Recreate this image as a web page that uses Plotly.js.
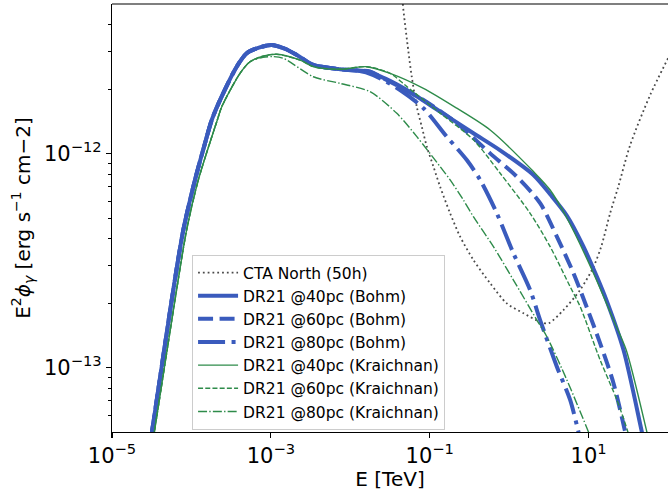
<!DOCTYPE html>
<html>
<head>
<meta charset="utf-8">
<script src="https://cdn.plot.ly/plotly-3.0.1.min.js"></script>
<style>html,body{margin:0;padding:0;background:#fff;overflow:hidden;}</style>
</head>
<body>
<div id="chart" style="width:668px;height:491px;"></div>
<script>
// All values are log10(E / TeV) and log10(E^2 phi / erg s^-1 cm^-2)
const bohmRiseLogE = [-4.62, -4.497, -4.248, -4.102, -3.955, -3.829, -3.744, -3.640, -3.430, -3.304, -3.15, -2.989, -2.83, -2.674, -2.465, -2.128, -1.91];
const bohmRiseLogF = [-13.59, -13.301, -12.684, -12.357, -12.123, -11.952, -11.843, -11.750, -11.594, -11.531, -11.505, -11.493, -11.509, -11.539, -11.586, -11.606, -11.612];

const bohm40TailLogE = [-1.751, -1.709, -1.50, -1.288, -0.869, -0.450, -0.113, 0.306, 0.516, 0.726, 0.936, 1.104, 1.230, 1.440, 1.671, 1.73];
const bohm40TailLogF = [-11.617, -11.625, -11.66, -11.703, -11.804, -11.905, -11.985, -12.10, -12.19, -12.29, -12.435, -12.575, -12.69, -12.918, -13.301, -13.40];

const bohm60TailLogE = [-1.75, -1.583, -1.079, -0.659, -0.239, 0.097, 0.390, 0.601, 0.810, 0.979, 1.146, 1.314, 1.461, 1.50];
const bohm60TailLogF = [-11.617, -11.648, -11.750, -11.858, -11.999, -12.108, -12.232, -12.388, -12.559, -12.72, -12.887, -13.073, -13.301, -13.37];

const bohm80TailLogE = [-1.709, -1.373, -1.079, -0.785, -0.533, -0.365, -0.155, 0.054, 0.264, 0.390, 0.601, 0.768, 0.873, 0.91];
const bohm80TailLogF = [-11.633, -11.703, -11.788, -11.921, -12.030, -12.123, -12.279, -12.466, -12.637, -12.778, -12.996, -13.151, -13.301, -13.36];

const kraiRiseLogE = [-4.59, -4.467, -4.207, -4.060, -3.913, -3.674, -3.618, -3.388, -3.262];
const kraiRiseLogF = [-13.59, -13.301, -12.684, -12.357, -12.123, -11.843, -11.781, -11.625, -11.571];

const krai4060MidLogE = [-3.1, -2.926, -2.632, -2.465, -2.128, -1.792];
const krai4060MidLogF = [-11.545, -11.536, -11.563, -11.594, -11.606, -11.594];

const krai40TailLogE = [-1.499, -1.079, -0.659, -0.239, 0.306, 0.516, 0.726, 1.062, 1.314, 1.474, 1.734, 1.79];
const krai40TailLogF = [-11.625, -11.695, -11.788, -11.890, -12.084, -12.17, -12.30, -12.559, -12.778, -12.918, -13.301, -13.39];

const krai60TailLogE = [-1.499, -1.288, -0.869, -0.450, -0.113, 0.264, 0.516, 0.768, 0.894, 1.146, 1.356, 1.495, 1.54];
const krai60TailLogF = [-11.625, -11.687, -11.811, -11.936, -12.092, -12.279, -12.435, -12.622, -12.715, -12.965, -13.151, -13.301, -13.37];

const krai80TailLogE = [-3.1, -2.969, -2.842, -2.465, -2.128, -1.751, -1.414, -1.162, -0.869, -0.743, -0.576, -0.450, -0.198, 0.054, 0.349, 0.475, 0.727, 0.999, 1.05];
const krai80TailLogF = [-11.55, -11.547, -11.555, -11.641, -11.672, -11.711, -11.812, -11.921, -12.061, -12.123, -12.217, -12.295, -12.435, -12.591, -12.778, -12.856, -13.058, -13.301, -13.35];

const ctaLogE = [-1.38, -1.339, -1.268, -1.226, -1.163, -1.100, -1.036, -0.953, -0.869, -0.743, -0.617, -0.450, -0.239, -0.029, 0.180, 0.390, 0.495, 0.684, 0.894, 1.062, 1.159, 1.272, 1.373, 1.524, 1.776, 2.003];
const ctaLogF = [-11.10, -11.301, -11.524, -11.641, -11.781, -11.874, -11.968, -12.061, -12.155, -12.279, -12.388, -12.497, -12.606, -12.700, -12.746, -12.786, -12.793, -12.731, -12.637, -12.529, -12.435, -12.278, -12.156, -11.960, -11.726, -11.553];

const seriesNames = ["CTA North (50h)", "DR21 @40pc (Bohm)", "DR21 @60pc (Bohm)", "DR21 @80pc (Bohm)",
  "DR21 @40pc (Kraichnan)", "DR21 @60pc (Kraichnan)", "DR21 @80pc (Kraichnan)"];
const xTickVals = [1e-5, 1e-3, 1e-1, 1e1];
const xTickText = ["10<sup>−5</sup>", "10<sup>−3</sup>", "10<sup>−1</sup>", "10<sup>1</sup>"];
const yTickVals = [1e-13, 1e-12];
const yTickText = ["10<sup>−13</sup>", "10<sup>−12</sup>"];
const yMinorVals = [6e-14, 7e-14, 8e-14, 9e-14, 2e-13, 3e-13, 4e-13, 5e-13, 6e-13, 7e-13, 8e-13, 9e-13, 2e-12, 3e-12, 4e-12];

const p10 = a => a.map(v => Math.pow(10, v));
const BLUE = '#3a5bbd', GREEN = '#2e8b4a', GRAY = '#4a4a4a';
const FONT = 'DejaVu Sans, Liberation Sans, sans-serif';

const traces = [
  {x: p10(ctaLogE), y: p10(ctaLogF), name: seriesNames[0], line: {color: GRAY, width: 1.8, dash: '1.8px,3px'}},
  {x: p10(bohmRiseLogE.concat(bohm40TailLogE)), y: p10(bohmRiseLogF.concat(bohm40TailLogF)), name: seriesNames[1], line: {color: BLUE, width: 4}},
  {x: p10(bohmRiseLogE.concat(bohm60TailLogE)), y: p10(bohmRiseLogF.concat(bohm60TailLogF)), name: seriesNames[2], line: {color: BLUE, width: 4, dash: '15px,6.5px'}},
  {x: p10(bohmRiseLogE.concat(bohm80TailLogE)), y: p10(bohmRiseLogF.concat(bohm80TailLogF)), name: seriesNames[3], line: {color: BLUE, width: 4, dash: '27px,6.5px,4px,6.5px'}},
  {x: p10(kraiRiseLogE.concat(krai4060MidLogE, krai40TailLogE)), y: p10(kraiRiseLogF.concat(krai4060MidLogF, krai40TailLogF)), name: seriesNames[4], line: {color: GREEN, width: 1.4}},
  {x: p10(kraiRiseLogE.concat(krai4060MidLogE, krai60TailLogE)), y: p10(kraiRiseLogF.concat(krai4060MidLogF, krai60TailLogF)), name: seriesNames[5], line: {color: GREEN, width: 1.4, dash: '5px,2.2px'}},
  {x: p10(kraiRiseLogE.concat(krai80TailLogE)), y: p10(kraiRiseLogF.concat(krai80TailLogF)), name: seriesNames[6], line: {color: GREEN, width: 1.4, dash: '9px,2.2px,1.4px,2.2px'}}
].map(t => {
  t.type = 'scatter'; t.mode = 'lines'; t.hoverinfo = 'skip';
  t.line.shape = 'spline'; t.line.smoothing = 0.8;
  return t;
});

const axisCommon = {
  type: 'log', showgrid: false, zeroline: false, showline: true, linecolor: 'black', linewidth: 1.1,
  ticks: 'outside', ticklen: 5, tickwidth: 1.1, tickcolor: 'black', tickmode: 'array',
  tickfont: {family: FONT, size: 21, color: 'black'}
};

const layout = {
  width: 668, height: 491,
  margin: {l: 112, r: 0, t: 4, b: 59},
  paper_bgcolor: 'white', plot_bgcolor: 'white',
  font: {family: FONT, color: 'black'},
  showlegend: true,
  xaxis: Object.assign({}, axisCommon, {
    range: [-5, 2.0], tickvals: xTickVals, ticktext: xTickText,
    title: {text: 'E [TeV]', font: {family: FONT, size: 20, color: 'black'}, standoff: 6}
  }),
  yaxis: Object.assign({}, axisCommon, {
    range: [Math.log10(5e-14), Math.log10(5e-12)], tickvals: yTickVals, ticktext: yTickText,
    minor: {tickmode: 'array', tickvals: yMinorVals, ticks: 'outside', ticklen: 3, tickwidth: 1, tickcolor: 'black', showgrid: false},
    title: {text: 'E<sup>2</sup><i>ϕ</i><sub><i>γ</i></sub> [erg s<sup>−1</sup> cm−2]', font: {family: FONT, size: 20, color: 'black'}, standoff: 8}
  }),
  legend: {
    x: 0.144, y: 0.4136, xanchor: 'left', yanchor: 'top',
    bgcolor: 'rgba(255,255,255,0.8)', bordercolor: '#cccccc', borderwidth: 1,
    font: {family: FONT, size: 15.5, color: 'black'}, traceorder: 'normal', itemwidth: 40
  },
  shapes: [{type: 'line', xref: 'paper', yref: 'paper', x0: 0, x1: 1, y0: 1, y1: 1, line: {color: 'black', width: 1.1}}]
};

Plotly.newPlot('chart', traces, layout, {staticPlot: true, displayModeBar: false});
</script>
</body>
</html>
